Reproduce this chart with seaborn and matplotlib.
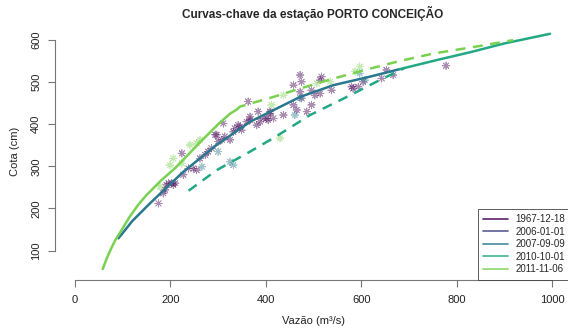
import pandas as pd
import seaborn as sns
import matplotlib.pyplot as plt
from matplotlib.lines import Line2D

# datas das curvas-chave e cores (viridis)
datas = ['1967-12-18', '2006-01-01', '2007-09-09', '2010-10-01', '2011-11-06']
cores = ['#440154', '#414487', '#2A788E', '#22A884', '#7AD151']

# curvas (vazao m3/s, cota cm)
q_2007 = [91, 120, 157, 227, 297, 367, 472, 542, 618, 681]
h_2007 = [129, 170, 212, 287, 351, 406, 465, 493, 513, 531]

q_2010_tracejado = [238, 297, 367, 420, 493, 577, 639, 690]
h_2010_tracejado = [242, 291, 335, 370, 422, 469, 505, 533]
q_2010 = [681, 760, 828, 900, 996]
h_2010 = [531, 553, 571, 592, 615]

q_2011 = [58, 66, 75, 84, 94, 115, 132, 150, 180, 210, 262, 300, 325, 339]
h_2011 = [56, 80, 103, 124, 142, 181, 208, 232, 266, 296, 357, 400, 425, 435]
q_2011_tracejado = [339, 346, 416, 472, 540, 611, 680, 751, 849, 919]
h_2011_tracejado = [435, 442, 465, 485, 508, 530, 550, 568, 586, 600]

# medicoes
q_med_1967 = [175, 185, 189, 192, 196, 203, 206, 210, 227, 224, 238, 248, 255, 262, 273, 279, 286,
              294, 297, 300, 308, 314, 325, 311, 332, 335, 342, 346, 349, 360, 363, 367, 367,
              381, 384, 388, 395, 402, 405, 409, 409, 416, 437, 458, 458, 465, 472, 475, 472,
              475, 486, 496, 496, 503, 514, 514, 517, 538, 580, 583, 594, 604, 643, 653, 667, 778]
h_med_1967 = [212, 236, 244, 256, 260, 260, 256, 260, 280, 331, 295, 295, 291, 319, 327, 335, 343,
              375, 375, 359, 363, 371, 363, 402, 382, 390, 398, 394, 386, 406, 454, 410, 418,
              398, 430, 406, 414, 414, 410, 430, 426, 414, 422, 493, 446, 434, 517, 501, 477,
              462, 430, 481, 446, 469, 505, 473, 513, 481, 489, 485, 489, 501, 509, 529, 517, 539]
q_med_2007 = [266, 300, 325, 332, 461, 472, 597, 608]
h_med_2007 = [299, 335, 311, 303, 422, 462, 521, 505]
q_med_2011 = [178, 199, 206, 224, 241, 255, 262, 412, 430, 437, 507, 535, 587, 597]
h_med_2011 = [252, 303, 319, 307, 351, 355, 363, 446, 367, 469, 497, 501, 525, 537]

medicoes = pd.concat([
    pd.DataFrame({'vazao': q_med_1967, 'cota': h_med_1967, 'data': datas[0]}),
    pd.DataFrame({'vazao': q_med_2007, 'cota': h_med_2007, 'data': datas[2]}),
    pd.DataFrame({'vazao': q_med_2011, 'cota': h_med_2011, 'data': datas[4]}),
])

sns.set_style('white')
plt.rcParams['font.family'] = ['Liberation Sans', 'DejaVu Sans']

fig = plt.figure(figsize=(5.68, 3.31), dpi=100)
ax = fig.add_axes([55 / 568, 51 / 331, 516 / 568, 258 / 331])

paleta = dict(zip(datas, cores))
sns.scatterplot(data=medicoes, x='vazao', y='cota', hue='data', palette=paleta,
                marker=(8, 2, 0), s=28, linewidth=0.6, alpha=0.45, legend=False, ax=ax)

sns.lineplot(x=q_2007, y=h_2007, color=cores[2], lw=1.8, sort=False, ax=ax)
sns.lineplot(x=q_2010, y=h_2010, color=cores[3], lw=1.8, sort=False, ax=ax)
sns.lineplot(x=q_2010_tracejado, y=h_2010_tracejado, color=cores[3], lw=1.8,
             linestyle=(0, (4, 3)), sort=False, ax=ax)
sns.lineplot(x=q_2011, y=h_2011, color=cores[4], lw=1.8, sort=False, ax=ax)
sns.lineplot(x=q_2011_tracejado, y=h_2011_tracejado, color=cores[4], lw=1.8,
             linestyle=(0, (4, 3)), sort=False, ax=ax)

ax.set_xlim(-42, 1040)
ax.set_ylim(30, 643)
ax.set_xticks([0, 200, 400, 600, 800, 1000])
ax.set_yticks([100, 200, 300, 400, 500, 600])
for s in ['top', 'right']:
    ax.spines[s].set_visible(False)
ax.spines['bottom'].set_bounds(0, 1000)
ax.spines['left'].set_bounds(100, 600)
for s in ['bottom', 'left']:
    ax.spines[s].set_color('#777777')
    ax.spines[s].set_linewidth(0.8)
ax.tick_params(axis='both', direction='out', length=5, width=0.8, color='#777777',
               labelsize=8, labelcolor='#222222', bottom=True, left=True)
ax.tick_params(axis='x', pad=6)
ax.tick_params(axis='y', pad=5)
plt.setp(ax.get_yticklabels(), rotation=90, va='center')

ax.set_title('Curvas-chave da estação PORTO CONCEIÇÃO', fontsize=8.5,
             fontweight='bold', pad=3)
ax.set_xlabel('Vazão (m³/s)', fontsize=8, color='#222222')
ax.set_ylabel('Cota (cm)', fontsize=8, color='#222222')
ax.xaxis.set_label_coords(0.5, -0.14)
ax.yaxis.set_label_coords(-0.068, 0.5)

handles = [Line2D([0], [0], color=c, lw=1.3, alpha=0.8) for c in cores]
leg = ax.legend(handles, datas, loc='lower right', bbox_to_anchor=(1, 0),
                borderaxespad=0, fontsize=7, frameon=True, fancybox=False,
                handlelength=2.5, labelspacing=0.25, borderpad=0.6)
leg.get_frame().set_edgecolor('#333333')
leg.get_frame().set_linewidth(0.7)

fig.savefig('out.png', dpi=100)
